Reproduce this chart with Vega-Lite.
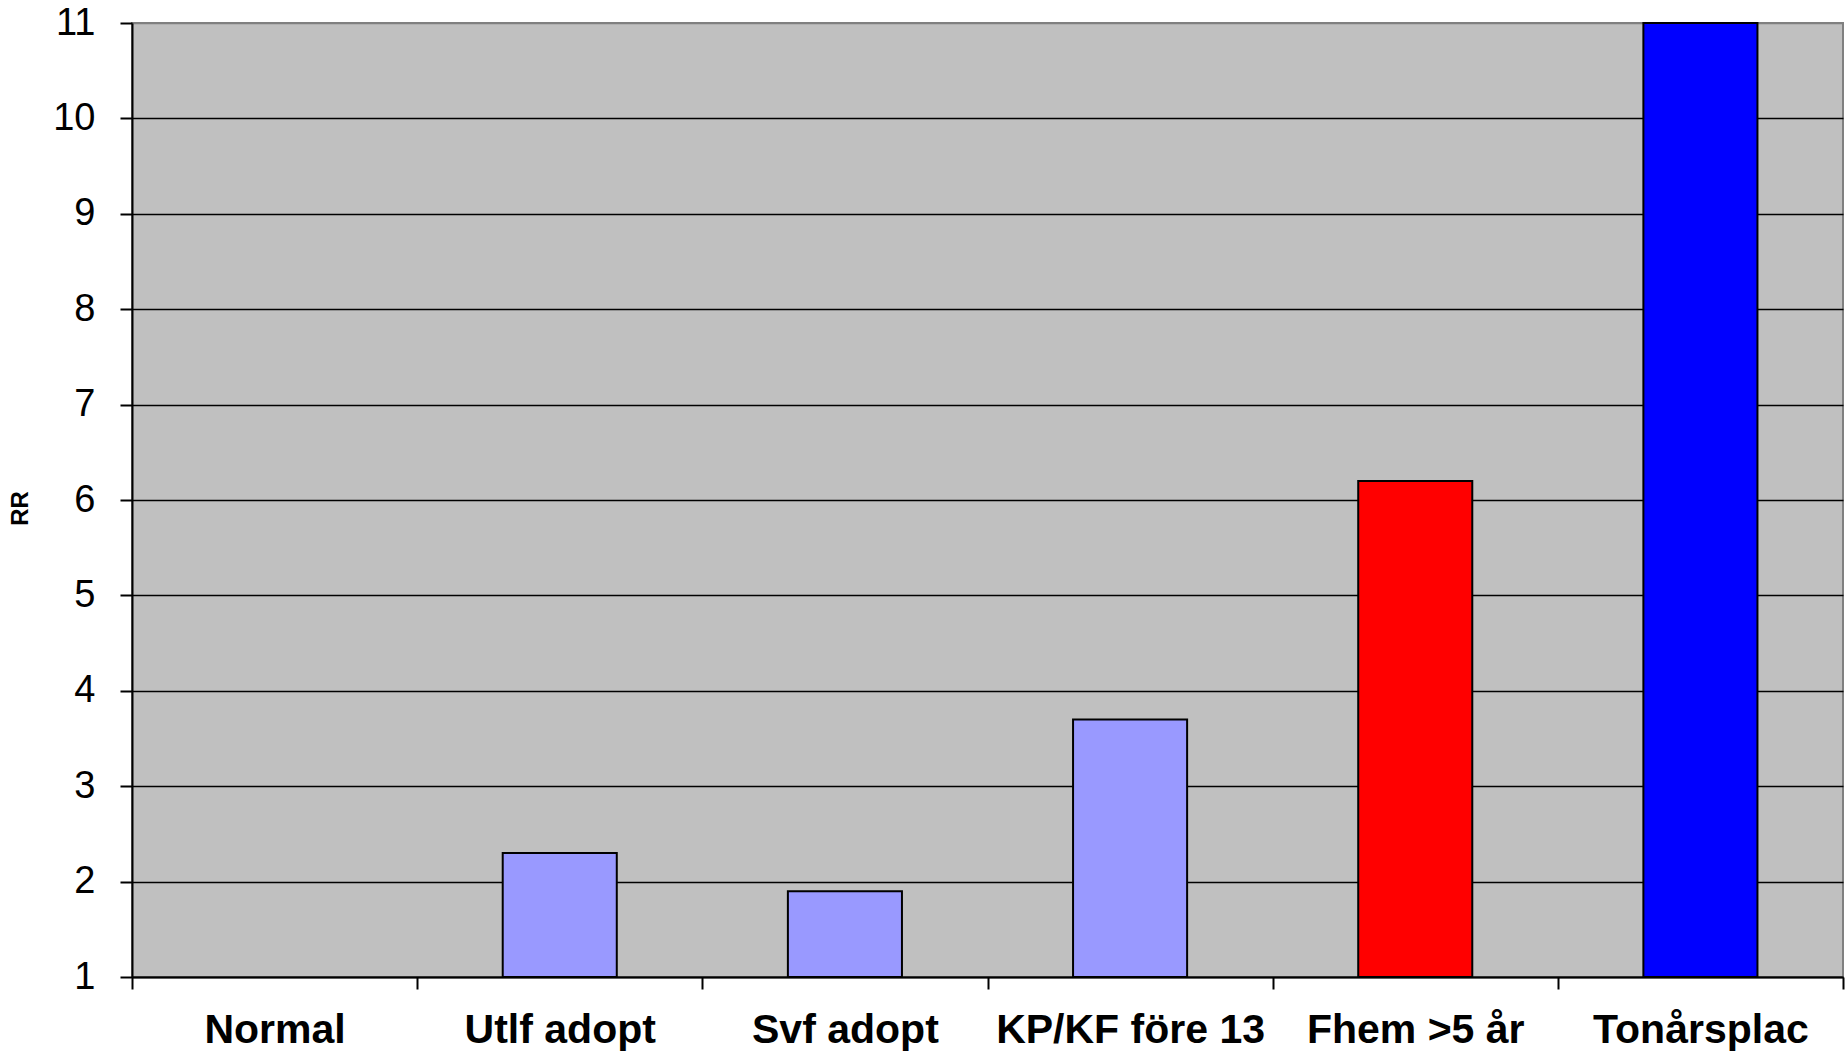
{
  "$schema": "https://vega.github.io/schema/vega-lite/v6.json",
  "autosize": {"type": "none"},
  "width": 1711,
  "height": 954,
  "padding": {"left": 132, "top": 23, "right": 2, "bottom": 74},
  "background": "white",
  "config": {
    "view": {"fill": "#C0C0C0", "stroke": "#808080", "strokeWidth": 2},
    "font": "Liberation Sans"
  },
  "data": {
    "values": [
      {"category": "Normal", "RR": 1, "group": "a"},
      {"category": "Utlf adopt", "RR": 2.3, "group": "a"},
      {"category": "Svf adopt", "RR": 1.9, "group": "a"},
      {"category": "KP/KF före 13", "RR": 3.7, "group": "a"},
      {"category": "Fhem >5 år", "RR": 6.2, "group": "b"},
      {"category": "Tonårsplac", "RR": 11, "group": "c"}
    ]
  },
  "transform": [{"filter": "datum.RR > 1"}],
  "mark": {"type": "bar", "width": {"band": 0.4}, "stroke": "black", "strokeWidth": 2},
  "encoding": {
    "x": {
      "field": "category",
      "type": "nominal",
      "sort": null,
      "scale": {
        "domain": ["Normal", "Utlf adopt", "Svf adopt", "KP/KF före 13", "Fhem >5 år", "Tonårsplac"],
        "paddingInner": 0,
        "paddingOuter": 0
      },
      "axis": {
        "title": null,
        "labelAngle": 0,
        "labelFont": "Liberation Sans",
        "labelFontSize": 41,
        "labelFontWeight": "bold",
        "labelColor": "black",
        "labelBaseline": "alphabetic",
        "labelPadding": 53,
        "labelLimit": 0,
        "labelOverlap": false,
        "tickBand": "extent",
        "tickSize": 12,
        "tickWidth": 2,
        "tickColor": "black",
        "domainColor": "black",
        "domainWidth": 2,
        "grid": false
      }
    },
    "y": {
      "field": "RR",
      "type": "quantitative",
      "scale": {"domain": [1, 11], "zero": false, "nice": false},
      "axis": {
        "title": "RR",
        "titleFont": "Liberation Sans",
        "titleFontSize": 24,
        "titleFontWeight": "bold",
        "titleColor": "black",
        "titlePadding": 20,
        "titleY": 485,
        "values": [1, 2, 3, 4, 5, 6, 7, 8, 9, 10, 11],
        "format": "d",
        "labelFont": "Liberation Sans",
        "labelFontSize": 38,
        "labelColor": "black",
        "labelPadding": 25,
        "tickSize": 12,
        "tickWidth": 2,
        "tickColor": "black",
        "domainColor": "black",
        "domainWidth": 2,
        "grid": true,
        "gridColor": {"condition": {"test": "datum.value === 11", "value": "#808080"}, "value": "black"},
        "gridWidth": 1.5,
        "gridOpacity": 1
      }
    },
    "y2": {"datum": 1},
    "color": {
      "field": "group",
      "type": "nominal",
      "scale": {"domain": ["a", "b", "c"], "range": ["#9999FF", "#FF0000", "#0000FF"]},
      "legend": null
    }
  }
}
